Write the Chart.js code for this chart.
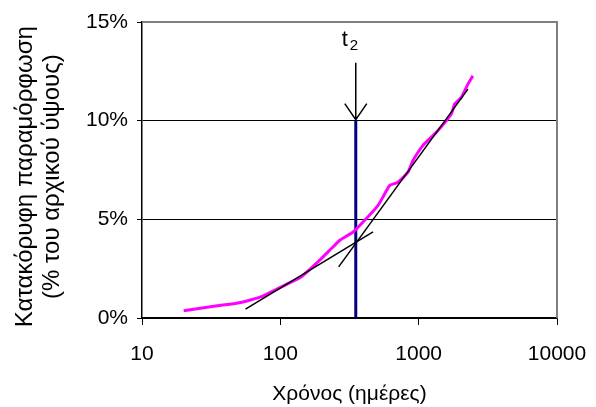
<!DOCTYPE html>
<html>
<head>
<meta charset="utf-8">
<script src="https://cdn.jsdelivr.net/npm/chart.js@4/dist/chart.umd.min.js"></script>
<style>
  html, body { margin: 0; padding: 0; background: #fff; }
  #wrap { width: 596px; height: 407px; }
</style>
</head>
<body>
<div id="wrap"><canvas id="c" width="596" height="407"></canvas></div>
<script>
// καμπύλη παραμόρφωσης: χρόνος (ημέρες) / παραμόρφωση (%)
const days = [20, 35, 52, 73, 108, 142, 187, 234, 269, 336, 396, 509, 552, 618, 709, 838, 910, 1075, 1342, 1722, 1820, 2032, 2270, 2466];
const strain = [0.37, 0.62, 0.79, 1.08, 1.67, 2.09, 2.84, 3.52, 3.94, 4.36, 4.86, 5.71, 6.13, 6.72, 6.88, 7.39, 7.98, 8.75, 9.41, 10.34, 10.84, 11.18, 11.85, 12.27];
// εφαπτόμενες
const tanA_x = [56, 468];
const tanA_y = [0.45, 4.36];
const tanB_x = [264, 2270];
const tanB_y = [2.59, 11.6];
// χρόνος t2
const t2 = 351;
const t2_y = [0, 10];
const arrowTop = 12.94;
// άξονες
const xTicks = [10, 100, 1000, 10000];
const yTicks = [0, 5, 10, 15];

const FONT = 'Arial, "Liberation Sans", sans-serif';

function pts(xs, ys) {
    return xs.map((x, i) => ({ x: x, y: ys[i] }));
}

//πλαίσιο + βέλος t2
const extras = {
    id: 'extras',
    beforeDatasetsDraw(chart) {
        const a = chart.chartArea;
        const ctx = chart.ctx;
        ctx.save();
        ctx.strokeStyle = '#808080';
        ctx.lineWidth = 2;
        ctx.beginPath();
        ctx.moveTo(a.left, a.top);
        ctx.lineTo(a.right, a.top);
        ctx.lineTo(a.right, a.bottom);
        ctx.stroke();
        ctx.restore();
    },
    afterDatasetsDraw(chart) {
        const ctx = chart.ctx;
        const xs = chart.scales.x, ys = chart.scales.y;
        const px = xs.getPixelForValue(t2);
        const yTip = ys.getPixelForValue(t2_y[1]) - 1;
        const yTop = ys.getPixelForValue(arrowTop);
        ctx.save();
        ctx.strokeStyle = '#000';
        ctx.lineWidth = 1.5;
        ctx.beginPath();
        ctx.moveTo(px, yTop);
        ctx.lineTo(px, yTip);
        ctx.moveTo(px - 11, yTip - 16);
        ctx.lineTo(px, yTip);
        ctx.lineTo(px + 11, yTip - 16);
        ctx.stroke();
        // t2
        ctx.fillStyle = '#000';
        ctx.textBaseline = 'alphabetic';
        ctx.textAlign = 'left';
        ctx.font = '22px ' + FONT;
        ctx.fillText('t', px - 14, 46);
        ctx.font = '15px ' + FONT;
        ctx.fillText('2', px - 6, 50);
        ctx.restore();
    }
};

new Chart(document.getElementById('c'), {
    type: 'scatter',
    data: {
        datasets: [
            {
                data: pts(days, strain),
                showLine: true,
                borderColor: '#FF00FF',
                borderWidth: 3,
                pointRadius: 0,
                tension: 0.15,
                order: 1
            },
            {
                data: pts(tanA_x, tanA_y),
                showLine: true,
                borderColor: '#000',
                borderWidth: 1.5,
                pointRadius: 0,
                order: 0
            },
            {
                data: pts(tanB_x, tanB_y),
                showLine: true,
                borderColor: '#000',
                borderWidth: 1.5,
                pointRadius: 0,
                order: 0
            },
            {
                data: pts([t2, t2], t2_y),
                showLine: true,
                borderColor: '#000080',
                borderWidth: 3,
                pointRadius: 0,
                order: 2
            }
        ]
    },
    options: {
        responsive: false,
        animation: false,
        layout: { padding: { top: 22, right: 39, left: 0, bottom: 0 } },
        plugins: {
            legend: { display: false },
            tooltip: { enabled: false }
        },
        scales: {
            x: {
                type: 'logarithmic',
                min: 10,
                max: 10000,
                afterBuildTicks: s => { s.ticks = xTicks.map(v => ({ value: v })); },
                afterFit: s => { s.height = 89; s.paddingLeft = 0; s.paddingRight = 0; },
                ticks: {
                    color: '#000',
                    font: { family: FONT, size: 21 },
                    padding: 17,
                    maxRotation: 0,
                    callback: v => String(v)
                },
                grid: {
                    drawOnChartArea: false,
                    color: '#000',
                    tickLength: 7,
                    lineWidth: 1
                },
                border: { color: '#000', width: 1.5 },
                title: {
                    display: true,
                    text: 'Χρόνος (ημέρες)',
                    color: '#000',
                    font: { family: FONT, size: 21 },
                    padding: { top: 0, bottom: 0 }
                }
            },
            y: {
                min: 0,
                max: 15,
                afterBuildTicks: s => { s.ticks = yTicks.map(v => ({ value: v })); },
                afterFit: s => { s.width = 142; s.paddingTop = 0; s.paddingBottom = 0; },
                ticks: {
                    color: '#000',
                    font: { family: FONT, size: 21 },
                    padding: 9,
                    callback: v => v + '%'
                },
                grid: {
                    color: c => (c.tick && c.tick.value === 15) ? 'rgba(0,0,0,0)' : '#000',
                    tickColor: '#000',
                    tickLength: 5,
                    lineWidth: 1
                },
                border: { color: '#000', width: 1.5 },
                title: {
                    display: true,
                    text: ['Κατακόρυφη παραμόρφωση  ', '(% του αρχικού ύψους)  '],
                    color: '#000',
                    font: { family: FONT, size: 24, lineHeight: '27px' },
                    padding: { top: 12, bottom: 0 }
                }
            }
        }
    },
    plugins: [extras]
});
</script>
</body>
</html>
